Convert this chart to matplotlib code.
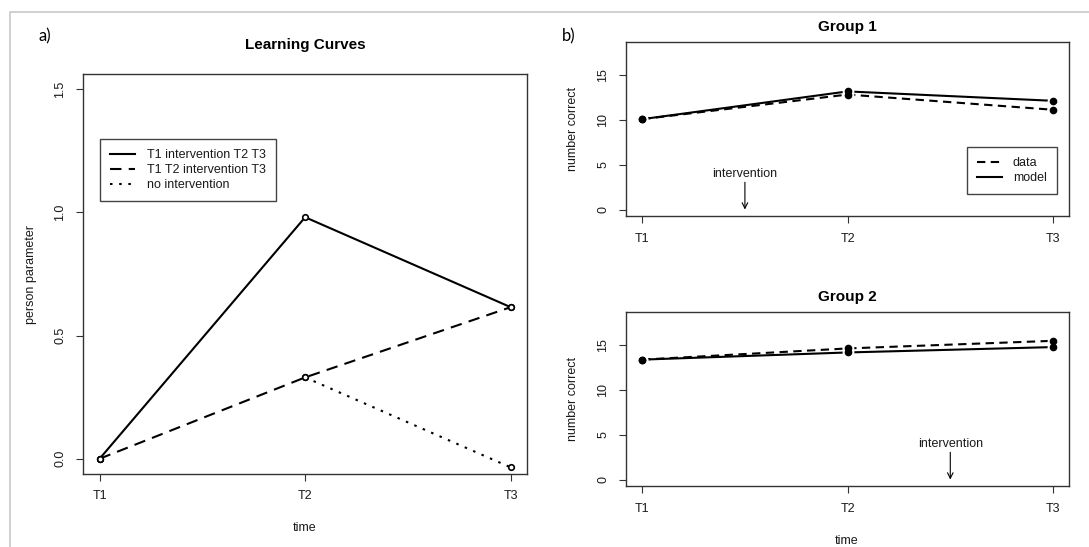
import matplotlib
matplotlib.use("Agg")
import matplotlib.pyplot as plt
from matplotlib.lines import Line2D

plt.rcParams.update({
    "font.family": ["Liberation Sans", "DejaVu Sans"],
    "font.size": 9,
    "text.color": "#1a1a1a",
    "axes.edgecolor": "#333333",
    "xtick.color": "#333333",
    "ytick.color": "#333333",
    "xtick.labelcolor": "#1a1a1a",
    "ytick.labelcolor": "#1a1a1a",
})

# ---- data ----
time_labels = ["T1", "T2", "T3"]
time_pos = [1, 2, 3]

# a) learning curves (person parameter)
lc_t1_intervention = [0.0, 0.98, 0.615]
lc_t2_intervention = [0.0, 0.33, 0.615]
lc_no_intervention = [0.0, 0.33, -0.035]
lc_yticks = [0.0, 0.5, 1.0, 1.5]

# b) number correct
g1_data = [10.1, 12.85, 11.15]
g1_model = [10.1, 13.2, 12.15]
g2_data = [13.4, 14.65, 15.5]
g2_model = [13.4, 14.2, 14.8]
g1_intervention = 1.5
g2_intervention = 2.5
nc_yticks = [0, 5, 10, 15]

W, H = 1089, 547
fig = plt.figure(figsize=(W / 100, H / 100), dpi=100)


def px(x, y):
    return x / W, 1 - y / H


def add_ax(x0, y0, x1, y1):
    return fig.add_axes([x0 / W, 1 - y1 / H, (x1 - x0) / W, (y1 - y0) / H])


def style_ax(ax, yticks, fmt):
    ax.set_xlim(0.92, 3.08)
    ax.set_xticks(time_pos)
    ax.set_xticklabels(time_labels)
    ax.set_yticks(yticks)
    ax.set_yticklabels([fmt.format(v) for v in yticks])
    ax.tick_params(direction="out", length=5, width=0.8, pad=7)
    ax.tick_params(axis="y", labelrotation=90)
    for lab in ax.get_yticklabels():
        lab.set_va("center")
    for s in ax.spines.values():
        s.set_linewidth(1.0)


# outer frame of the screenshot
fig.add_artist(Line2D([9.6 / W, 9.6 / W, 1.0], [0.0, 1 - 12.3 / H, 1 - 12.3 / H],
                      transform=fig.transFigure, color="#c8c8c8", lw=1.2))

# ==================== a) Learning curves ====================
ax = add_ax(83.2, 74.3, 527.1, 473.5)
ax.plot(time_pos, lc_t1_intervention, color="black", lw=1.5, ls="-",
        label="T1 intervention T2 T3")
ax.plot(time_pos, lc_t2_intervention, color="black", lw=1.5, ls=(0, (5.5, 3.5)),
        label="T1 T2 intervention T3")
ax.plot(time_pos[1:], lc_no_intervention[1:], color="black", lw=1.5, ls=(0, (1.2, 3.2)),
        label="no intervention")
for ys in (lc_t1_intervention, lc_t2_intervention, lc_no_intervention):
    ax.plot(time_pos, ys, ls="none", marker="o", ms=4, mfc="white", mec="black",
            mew=1.2, zorder=4)
ax.set_ylim(-0.06, 1.56)
style_ax(ax, lc_yticks, "{:.1f}")
leg0 = ax.legend(loc="upper left", bbox_to_anchor=px(100.4, 139.2),
                 bbox_transform=fig.transFigure, borderaxespad=0, frameon=True,
                 fancybox=False, framealpha=1, edgecolor="#444444",
                 handlelength=2.0, handletextpad=0.9, labelspacing=0.25,
                 borderpad=0.8, fontsize=9)
leg0.get_frame().set_linewidth(1.0)
fig.text(*px(305, 44.7), "Learning Curves", fontsize=11, fontweight="bold",
         ha="center", va="center", color="black")
fig.text(*px(31.4, 274), "person parameter", rotation=90, ha="center", va="center")
fig.text(*px(305, 528), "time", ha="center", va="center")
fig.text(*px(44.6, 36.6), "a)", family="Lato", fontsize=12, ha="center", va="center",
         color="black")


# ==================== b) Groups ====================
def group_panel(y0, y1, data, model, interv, title):
    a = add_ax(625.8, y0, 1069.4, y1)
    a.plot(time_pos, data, color="black", lw=1.5, ls=(0, (4, 2.6)), label="data")
    a.plot(time_pos, model, color="black", lw=1.5, ls="-", label="model")
    for ys in (data, model):
        a.plot(time_pos, ys, ls="none", marker="o", ms=8.5, mfc="white", mec="none",
               zorder=3)
    for ys in (data, model):
        a.plot(time_pos, ys, ls="none", marker="o", ms=4.5, mfc="black", mec="black",
               zorder=4)
    a.set_ylim(-0.72, 18.72)
    style_ax(a, nc_yticks, "{:d}")
    a.annotate("", xy=(interv, 0), xytext=(interv, 3.05),
               arrowprops=dict(arrowstyle="->", color="black", lw=0.8,
                               shrinkA=0, shrinkB=0, mutation_scale=10))
    a.text(interv, 4, "intervention", ha="center", va="center", fontsize=9)
    fig.text(*px(847, y0 - 15), title, fontsize=11, fontweight="bold",
             ha="center", va="center", color="black")
    fig.text(*px(573.5, (y0 + y1) / 2), "number correct", rotation=90,
             ha="center", va="center")
    return a


ax1 = group_panel(42, 216, g1_data, g1_model, g1_intervention, "Group 1")
handles = [Line2D([], [], color="black", lw=1.5, ls=(0, (4, 2.6))),
           Line2D([], [], color="black", lw=1.5, ls="-")]
leg = ax1.legend(handles, ["data", "model"], loc="upper left",
                 bbox_to_anchor=px(966.5, 147.3), bbox_transform=fig.transFigure,
                 borderaxespad=0, frameon=True, fancybox=False, framealpha=1,
                 edgecolor="#444444", handlelength=2.0, handletextpad=0.9,
                 labelspacing=0.25, borderpad=0.8, fontsize=9)
leg.get_frame().set_linewidth(1.0)

ax2 = group_panel(312, 486, g2_data, g2_model, g2_intervention, "Group 2")
fig.text(*px(847, 540.7), "time", ha="center", va="center")
fig.text(*px(569, 36), "b)", family="Lato", fontsize=12, ha="center", va="center",
         color="black")

fig.savefig("out.png", dpi=100)
